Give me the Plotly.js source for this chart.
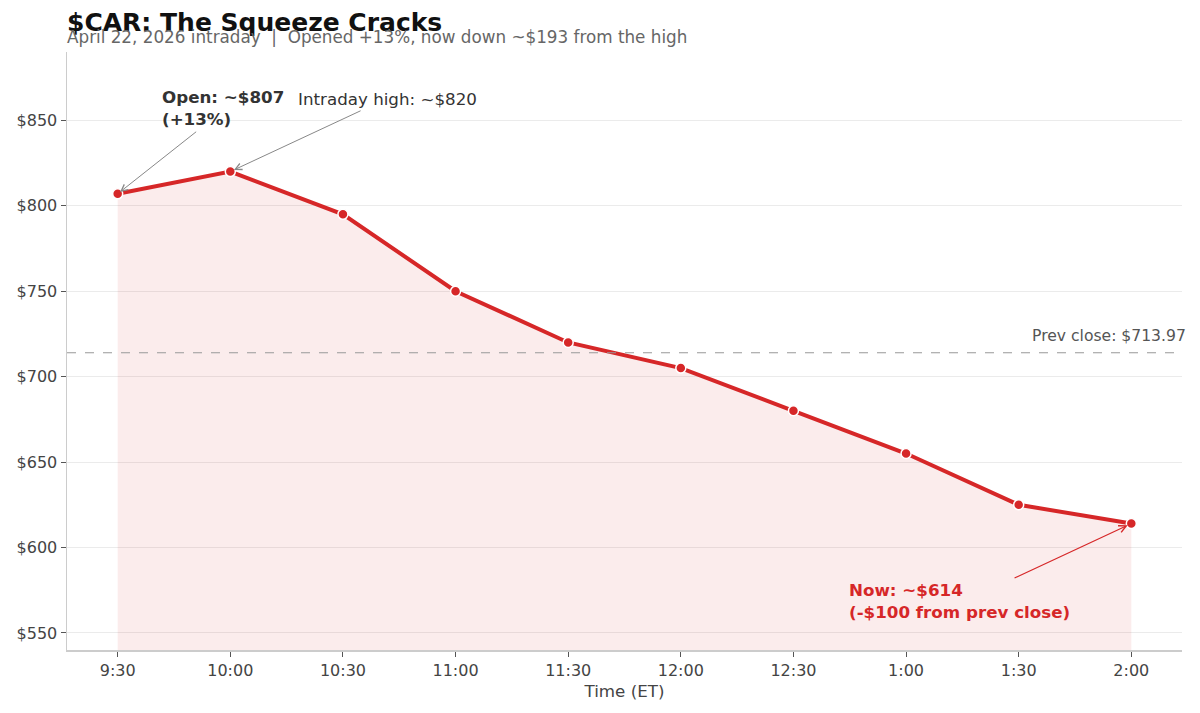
<!DOCTYPE html>
<html><head><meta charset="utf-8">
<script src="https://cdn.plot.ly/plotly-3.0.1.min.js"></script>
<style>html,body{margin:0;padding:0;background:#fff}#c{width:1200px;height:713px}</style>
</head><body><div id="c"></div>
<script>
const times = ["9:30","10:00","10:30","11:00","11:30","12:00","12:30","1:00","1:30","2:00"];
const prices = [807, 820, 795, 750, 720, 705, 680, 655, 625, 614];
const prevClose = 713.97;
const yTicks = [550, 600, 650, 700, 750, 800, 850];
const yTickText = ["$550","$600","$650","$700","$750","$800","$850"];

const red = "#d62728";
const font = "DejaVu Sans";

const traces = [
  {x: times, y: prices, type: "scatter", mode: "none", fill: "tozeroy",
   fillcolor: "rgba(214,39,40,0.09)", hoverinfo: "skip", showlegend: false},
  {x: times, y: prices, type: "scatter", mode: "lines+markers",
   line: {color: red, width: 4},
   marker: {color: red, size: 10, line: {color: "#fff", width: 1.5}},
   showlegend: false}
];

const arrowCol = "#888";
const layout = {
  width: 1200, height: 713,
  margin: {l: 67, r: 18, t: 52, b: 63},
  paper_bgcolor: "#fff", plot_bgcolor: "#fff",
  font: {family: font, color: "#444", size: 16},
  xaxis: {
    type: "category", range: [-0.45, 9.45],
    showgrid: false, zeroline: false,
    showline: true, linecolor: "#ccc", linewidth: 1.5,
    ticks: "outside", ticklen: 5, tickcolor: "#555",
    tickfont: {size: 16, color: "#444"},
    title: {text: "Time (ET)", font: {size: 16.7, color: "#444"}, standoff: 6}
  },
  yaxis: {
    range: [540, 890],
    tickvals: yTicks, ticktext: yTickText,
    showgrid: true, gridcolor: "#ebebeb", gridwidth: 1, zeroline: false,
    showline: true, linecolor: "#ccc", linewidth: 1.5,
    ticks: "outside", ticklen: 5, tickcolor: "#555",
    tickfont: {size: 16, color: "#444"}
  },
  shapes: [
    {type: "line", xref: "paper", x0: 0, x1: 1, yref: "y", y0: prevClose, y1: prevClose,
     line: {color: "#999", width: 1.2, dash: "dash"}}
  ],
  annotations: [
    {xref: "paper", x: 0, yref: "paper", y: 1.052, xanchor: "left", yanchor: "middle", xshift: -2, yshift: -2,
     text: "<b>$CAR: The Squeeze Cracks</b>", showarrow: false, font: {size: 25, color: "#111"}},
    {xref: "paper", x: 0, yref: "paper", y: 1.025, xanchor: "left", yanchor: "middle", xshift: -2,
     text: "April 22, 2026 intraday  |  Opened +13%, now down ~$193 from the high", showarrow: false,
     font: {size: 16.8, color: "#666"}},
    {xref: "paper", x: 1.005, yref: "y", y: prevClose, xanchor: "right", yanchor: "bottom", yshift: 6,
     text: "Prev close: $713.97", showarrow: false, font: {size: 15.6, color: "#555"}},
    // Open label + arrow
    {x: 0.4, y: 871, xref: "x", yref: "y", xanchor: "left", yanchor: "top", align: "left", xshift: -3, yshift: -1,
     text: "<b>Open: ~$807<br>(+13%)</b>", showarrow: false, font: {size: 16.7, color: "#333"}},
    {x: 0, y: prices[0], xref: "x", yref: "y", axref: "x", ayref: "y", ax: 0.71, ay: 844,
     text: "", showarrow: true, arrowhead: 5, arrowsize: 1.3, arrowwidth: 1, arrowcolor: arrowCol, standoff: 3},
    // Intraday high label + arrow
    {x: 1.61, y: 863.5, xref: "x", yref: "y", xanchor: "left", yanchor: "middle", xshift: -3, yshift: -2,
     text: "Intraday high: ~$820", showarrow: false, font: {size: 16.7, color: "#333"}},
    {x: 1, y: prices[1], xref: "x", yref: "y", axref: "x", ayref: "y", ax: 2.17, ay: 856,
     text: "", showarrow: true, arrowhead: 5, arrowsize: 1.3, arrowwidth: 1, arrowcolor: arrowCol, standoff: 4},
    // Now label + arrow
    {x: 6.5, y: 582, xref: "x", yref: "y", xanchor: "left", yanchor: "top", align: "left", xshift: -3,
     text: "<b>Now: ~$614<br>(-$100 from prev close)</b>", showarrow: false, font: {size: 16.7, color: red}},
    {x: 9, y: prices[9], xref: "x", yref: "y", axref: "x", ayref: "y", ax: 7.95, ay: 581.7,
     text: "", showarrow: true, arrowhead: 5, arrowsize: 1.2, arrowwidth: 1.2, arrowcolor: red, standoff: 4}
  ]
};

Plotly.newPlot("c", traces, layout, {displayModeBar: false, staticPlot: true});
</script></body></html>
